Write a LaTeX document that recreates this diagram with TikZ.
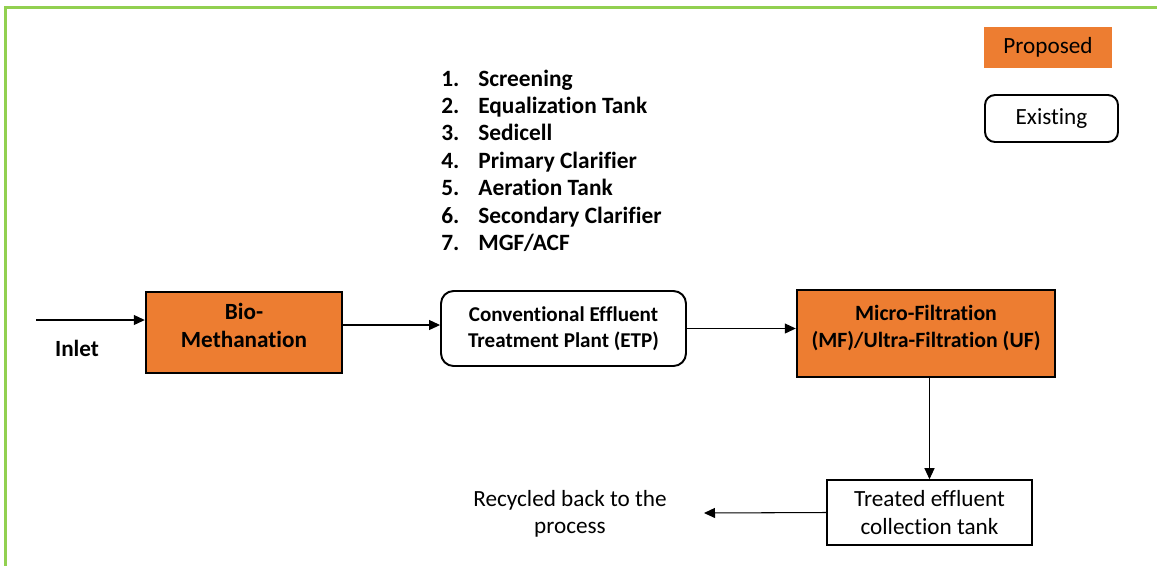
\documentclass[tikz,border=0pt]{standalone}
\usepackage{fontspec}
\setmainfont{Carlito}[Ligatures=NoCommon]
\usepackage{xcolor}
\usetikzlibrary{shapes, arrows.meta, positioning}
\definecolor{propOrange}{RGB}{237,125,49}
\definecolor{frameGreen}{RGB}{146,208,80}

\begin{document}
\begin{tikzpicture}[
            x=0.02cm, y=-0.02cm,
            txt/.style={font=\fontsize{13.2}{15.6}\selectfont, align=center, inner sep=0pt},
            proposed/.style={rectangle, draw=black, line width=1.4pt, fill=propOrange, txt, text depth=0.28cm},
            existing/.style={rectangle, draw=black, line width=1.1pt, rounded corners=0.25cm, txt, font=\fontsize{12}{14.8}\selectfont\bfseries},
            tank/.style={rectangle, draw=black, line width=0.9pt, txt},
            item/.style={font=\fontsize{13.3}{15.6}\selectfont\bfseries, inner sep=0pt, anchor=base west},
            flow/.style={-{Triangle[length=0.22cm, width=0.2cm]}, line width=0.6pt}
        ]
        \useasboundingbox (0,0) rectangle (1157,566);
        % Page frame
        \draw[frameGreen, line width=1.2pt] (1157,7.5) -- (5.5,7.5) -- (5.5,566);

        % Legend
        \node[rectangle, fill=propOrange, txt, minimum width=2.56cm, minimum height=0.82cm] (legprop) at (1048,47.5) {Proposed};
        \node[rectangle, draw=black, line width=1.1pt, rounded corners=0.2cm, txt, minimum width=2.66cm, minimum height=0.94cm] (legexist) at (1051.5,118.5) {Existing};

        % Units of the existing plant
        \foreach \i/\t in {1/Screening, 2/Equalization Tank, 3/Sedicell, 4/Primary Clarifier,
                           5/Aeration Tank, 6/Secondary Clarifier, 7/{MGF/ACF}} {
            \node[item] (num\i) at (441, {86+27.4*(\i-1)}) {\i.};
            \node[item] (unit\i) at (478, {86+27.4*(\i-1)}) {\t};
        }

        % Main line
        \node[proposed, font=\fontsize{13.2}{15.6}\selectfont\bfseries, minimum width=3.92cm, minimum height=1.62cm] (bio) at (244,332.5) {Bio-\\Methanation};
        \node[existing, minimum width=4.9cm, minimum height=1.5cm] (etp) at (563.5,328.5) {Conventional Effluent\\Treatment Plant (ETP)};
        \node[proposed, font=\fontsize{12.4}{15}\selectfont\bfseries, minimum width=5.16cm, minimum height=1.74cm] (mf) at (926,333.5) {Micro-Filtration\\(MF)/Ultra-Filtration (UF)};
        \node[tank, minimum width=4.1cm, minimum height=1.3cm] (treated) at (929.5,512.5) {Treated effluent\\collection tank};

        % Free ends and labels
        \coordinate (inlet) at (36,320);
        \node[txt, font=\fontsize{13.2}{15.6}\selectfont\bfseries] (inletlbl) at (77,348) {Inlet};
        \node[txt] (recycle) at (570,514) {Recycled back to the\\process};
        \coordinate (back) at (704,513);

        % Flows
        \draw[flow] (inlet) -- (inlet -| bio.west);
        \draw[flow] ([yshift=0.15cm]bio.east) -- ([yshift=0.15cm]bio.east -| etp.west);
        \draw[flow] (etp.east) -- (etp.east -| mf.west);
        \draw[flow] (treated.north |- mf.south) -- (treated.north);
        \draw[flow] (treated.west) -- (back);

    \end{tikzpicture}
\end{document}
